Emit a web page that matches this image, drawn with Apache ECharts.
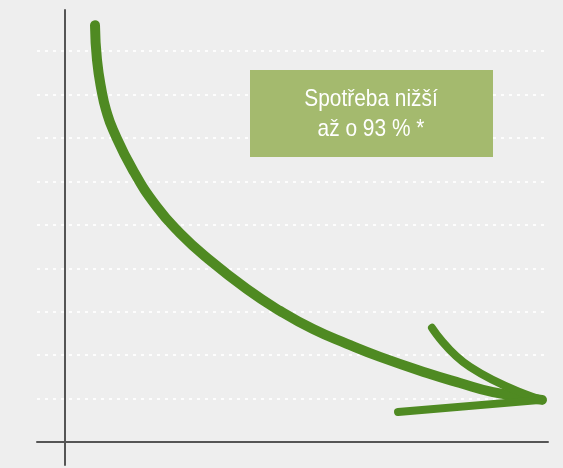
<!DOCTYPE html>
<html><head><meta charset="utf-8">
<script src="https://cdn.jsdelivr.net/npm/echarts@6/dist/echarts.min.js"></script>
<style>html,body{margin:0;padding:0;background:#eeeeee;}#c{width:563px;height:468px;}</style>
</head><body><div id="c"></div>
<script>
// curve (x, y); y in gridline units
const curveX = [30, 32, 37, 41, 48, 68, 92, 115, 142, 182, 215, 248, 282, 315, 362, 395, 428, 477];
const curveY = [9.60, 8.80, 8.04, 7.65, 7.19, 6.26, 5.41, 4.81, 4.24, 3.52, 3.02, 2.60, 2.26, 1.96, 1.59, 1.36, 1.15, 0.97];
const upperBarbX = [367, 405, 477];
const upperBarbY = [2.63, 1.73, 0.97];
const lowerBarbX = [333, 477];
const lowerBarbY = [0.69, 0.97];
const gridLevels = [1, 2, 3, 4, 5, 6, 7, 8, 9];
const labelLines = ['Spotřeba nižší', 'až o 93 % *'];

const zip = (xs, ys) => xs.map((x, i) => [x, ys[i]]);
const green = '#4f8a22';

const chart = echarts.init(document.getElementById('c'), null, {renderer: 'canvas'});
chart.setOption({
  backgroundColor: '#eeeeee',
  animation: false,
  grid: {left: 37, right: 15, top: 10, bottom: 3},
  xAxis: {
    type: 'value', min: -28, max: 483,
    axisLine: {show: true, onZero: true, lineStyle: {color: '#555555', width: 2}},
    axisTick: {show: false}, axisLabel: {show: false}, splitLine: {show: false}
  },
  yAxis: {
    type: 'value', min: -0.53, max: 9.95,
    axisLine: {show: true, onZero: true, lineStyle: {color: '#555555', width: 2}},
    axisTick: {show: false}, axisLabel: {show: false}, splitLine: {show: false}
  },
  graphic: [{
    type: 'group', left: 250, top: 70, z: 100,
    children: [
      {type: 'rect', z: 100, shape: {x: 0, y: 0, width: 243, height: 87}, style: {fill: '#a4ba6e'}},
      {type: 'text', z: 101, x: 121, y: 44, scaleX: 0.87,
        style: {x: 0, y: 0, text: labelLines.join('\n'), fill: '#ffffff',
        font: '24px "Liberation Sans", Arial', textAlign: 'center', textVerticalAlign: 'middle', lineHeight: 30}}
    ]
  }],
  series: [
    {
      type: 'line', data: [], symbol: 'none', z: 1,
      markLine: {
        silent: true, symbol: 'none', label: {show: false}, z: 1,
        lineStyle: {color: '#ffffff', type: [3, 5], width: 2, opacity: 0.85},
        data: gridLevels.map(v => ({yAxis: v}))
      }
    },
    {
      type: 'line', data: zip(curveX, curveY), smooth: 0.5, symbol: 'none',
      lineStyle: {color: green, width: 10, cap: 'round', join: 'round'}, z: 3
    },
    {type: 'line', data: zip(upperBarbX, upperBarbY), smooth: 0.5, symbol: 'none',
      lineStyle: {color: green, width: 8, cap: 'round'}, z: 3},
    {type: 'line', data: zip(lowerBarbX, lowerBarbY), symbol: 'none',
      lineStyle: {color: green, width: 8, cap: 'round'}, z: 3}
  ]
});
</script></body></html>
